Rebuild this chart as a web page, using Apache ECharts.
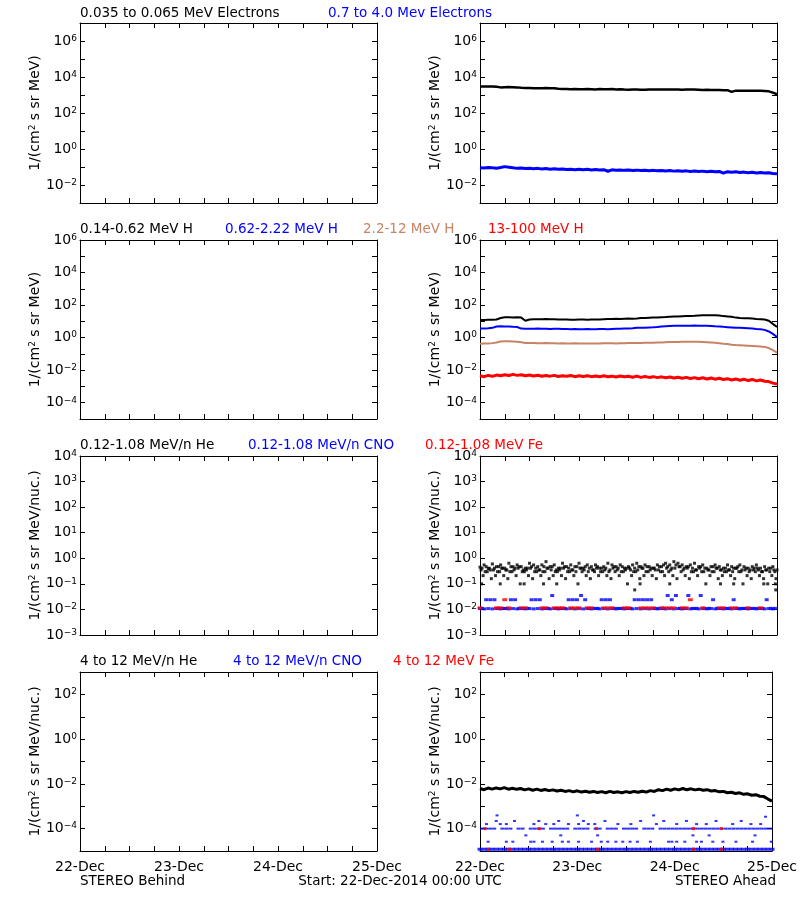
<!DOCTYPE html>
<html><head><meta charset="utf-8">
<script src="https://cdn.jsdelivr.net/npm/echarts@6/dist/echarts.min.js"></script>
<style>html,body{margin:0;padding:0;background:#fff}#c{width:800px;height:900px}</style>
</head><body><div id="c"></div><script>
// ---------------- DATA ----------------
const dayLabels = ['22-Dec', '23-Dec', '24-Dec', '25-Dec'];

// Row 1 (STEREO Ahead) electrons, hourly from 22-Dec 00:00 (h = 0..72)
const elec035_065 = [3000,3000,2950,2950,2900, 2650,2700, 2750,2700,2650,
  2500,2450,2450,2400,2400,2400,2450,2400,2350,
  2200,2150,2150,2100,2150,2100,2100,2150,2100,2050,
  2150,2100,2100,2150,2050,2100,2000,1950,2000,2050,1950,1950,
  2000,2050,2050,2000,2050,2050,2000,2000,1950,2000,2050,2000,
  1950,1900,1950,1900,1900,1900,1850,1850, 1500,
  1750,1750,1750,1700,1700,1700,1700, 1650,1600,1350,1100];
const elec07_40 = [0.092,0.088,0.095,0.090,0.086,0.094,0.105,0.098,0.090,0.084,
  0.088,0.082,0.086,0.080,0.084,0.078,0.082,0.076,0.080,0.074,
  0.078,0.073,0.076,0.071,0.075,0.070,0.074,0.069,0.072,0.068,
  0.071,0.058,0.070,0.066,0.069,0.065,0.068,0.064,0.067,0.063,
  0.066,0.062,0.065,0.061,0.064,0.060,0.063,0.059,0.062,0.058,
  0.061,0.057,0.060,0.056,0.059,0.055,0.058,0.054,0.057,0.046,
  0.055,0.051,0.054,0.050,0.052,0.048,0.051,0.047,0.050,0.046,
  0.048,0.044,0.042];

// Row 2 protons, hourly
const h014_062 = [12,12,12.5,12.5,13, 16,18,18,17.5,18,17, 11,
  13,13.5,13.5,13.5,14,13.5,13.5,13,
  13,13,12.5,12.5,13,13,12.5,13,13,13,13.5,
  14,14,14.5,14,14.5,15,14.5,15,
  16,16,16.5,17,17,18,18.5,
  19.5,20,20,20.5,21,21.5,22,
  23,23.5,24,24,23.5,23,
  21,20,19,17, 16,15.5,15.5,15, 14,13.5,13,11, 7,4.5];
const h062_222 = [3.7,3.7,3.8,4.0, 4.8,5.0,4.9,4.9,4.6,4.5,
  3.6,3.5,3.5,3.5,3.6,3.5,3.5,3.4,3.5,3.5,3.4,
  3.4,3.3,3.4,3.3,3.3,3.4,3.3,3.3,3.4,3.4,3.3,3.4,3.5,3.5,3.6,3.7,3.8,
  4.0,4.0,4.1,4.2,4.3,4.5,4.8,5.0,
  5.2,5.3,5.3,5.4,5.3,5.4,5.5,5.4,5.3,5.3,5.2,5.0,4.9,
  4.6,4.4,4.2,4.0,4.0,3.9,3.8,3.6,
  3.4,3.3,3.0,2.4,1.7,1.1];
const h22_12 = [0.42,0.43,0.44,0.46,0.50, 0.58,0.60,0.60,0.58,0.56,0.52,
  0.47,0.46,0.46,0.45,0.45,0.46,0.45,0.45,0.44,0.45,0.44,0.44,0.45,0.44,0.44,0.43,0.44,0.44,0.44,0.45,
  0.45,0.45,0.44,0.45,0.45,0.46,0.46,0.47,0.47,0.48,0.48,0.49,0.50,0.51,0.52,
  0.53,0.54,0.54,0.55,0.55,0.56,0.56,0.55,0.54,0.52,0.50,0.48,0.45,
  0.42,0.40,0.37,0.35,0.34,0.33,0.32,0.31,
  0.30,0.29,0.27,0.23,0.17,0.12];
const h13_100 = [0.0045,0.0040,0.0048,0.0042,0.0050,0.0046,0.0052,0.0047,0.0055,0.0048,
  0.0052,0.0045,0.0050,0.0044,0.0049,0.0042,0.0047,0.0043,0.0048,0.0041,
  0.0046,0.0042,0.0047,0.0040,0.0045,0.0041,0.0046,0.0040,0.0044,0.0039,
  0.0045,0.0040,0.0043,0.0038,0.0044,0.0039,0.0042,0.0037,0.0043,0.0036,
  0.0041,0.0036,0.0040,0.0035,0.0039,0.0034,0.0038,0.0033,0.0037,0.0032,
  0.0036,0.0031,0.0035,0.0030,0.0034,0.0029,0.0033,0.0028,0.0032,0.0027,
  0.0030,0.0025,0.0029,0.0024,0.0028,0.0023,0.0027,0.0022,0.0025,0.0021,
  0.0020,0.0016,0.0014];

// Row 3 (0.12-1.08 MeV/n), sampled at h+0, h+0.25, h+0.5, h+0.75
const he012_108_m00 = [0.45,0.55,0.40,0.60,0.47,0.55,0.41,0.64,0.47,0.55,
  0.47,0.41,0.64,0.55,0.47,0.55,0.74,0.47,0.55,0.41,
  0.64,0.47,0.55,0.47,0.64,0.41,0.55,0.47,0.55,0.41,
  0.47,0.64,0.55,0.47,0.55,0.41,0.47,0.55,0.64,0.47,
  0.55,0.47,0.41,0.55,0.47,0.64,0.55,0.74,0.64,0.55,
  0.47,0.55,0.64,0.47,0.55,0.41,0.47,0.55,0.47,0.41,
  0.55,0.47,0.41,0.55,0.47,0.41,0.47,0.55,0.41,0.47,
  0.41,0.47,0.35];
const he012_108_m15 = [0.35,0.30,0.41,0.35,0.30,0.41,0.35,0.30,0.35,0.41,
  0.30,0.35,0.41,0.30,0.35,0.30,0.41,0.35,0.30,0.35,
  0.41,0.30,0.35,0.30,0.41,0.35,0.30,0.35,0.41,0.30,
  0.35,0.30,0.41,0.35,0.30,0.35,0.41,0.30,0.35,0.41,
  0.30,0.35,0.41,0.35,0.30,0.41,0.35,0.41,0.47,0.35,
  0.41,0.30,0.35,0.41,0.30,0.35,0.30,0.41,0.35,0.30,
  0.35,0.30,0.41,0.30,0.35,0.30,0.35,0.41,0.30,0.35,
  0.30,0.35];
const he012_108_m30 = [0.41,0.47,0.35,0.41,0.47,0.41,0.35,0.47,0.41,0.47,
  0.35,0.41,0.47,0.41,0.35,0.47,0.41,0.47,0.35,0.41,
  0.47,0.41,0.35,0.47,0.41,0.47,0.41,0.35,0.47,0.41,
  0.41,0.35,0.47,0.41,0.47,0.41,0.35,0.41,0.47,0.41,
  0.47,0.41,0.35,0.47,0.55,0.47,0.41,0.55,0.47,0.41,
  0.47,0.41,0.35,0.47,0.41,0.35,0.47,0.41,0.35,0.41,
  0.35,0.41,0.47,0.35,0.41,0.35,0.41,0.35,0.30,0.35,
  0.41,0.30];
const he012_108_m45 = [0.21,0.30,0.16,0.21,0.30,0.21,0.16,0.30,0.21,0.10,
  0.30,0.21,0.16,0.30,0.21,0.30,0.16,0.21,0.30,0.21,
  0.16,0.30,0.21,0.10,0.30,0.21,0.16,0.30,0.21,0.30,
  0.21,0.16,0.30,0.21,0.30,0.10,0.21,0.30,0.16,0.21,
  0.30,0.21,0.16,0.30,0.21,0.30,0.21,0.16,0.30,0.21,
  0.16,0.30,0.21,0.30,0.10,0.21,0.30,0.16,0.21,0.30,
  0.21,0.16,0.30,0.10,0.21,0.16,0.30,0.21,0.16,0.10,
  0.21,0.16];
const he012_108_low = [[0.4,0.10],[4.9,0.10],[10.7,0.10],[15.4,0.10],[18.6,0.10],[38.8,0.10],
  [46,0.10],[58.3,0.10],[61.5,0.10],[68.8,0.10],[71.6,0.10],[71.7,0.058],[37.5,0.058]];
const cno012_108_m00 = [0.0108,0.0105,0.0108,0.0105,0.0108,0.0105,0.0108,0.0105,0.0108,0.0105,
  0.0108,0.0105,0.0108,0.0105,0.0108,0.0105,0.0108,0.0105,0.0108,0.0105,
  0.0108,0.0105,0.0108,0.0105,0.0108,0.0105,0.0108,0.0105,0.0108,0.0105,
  0.0108,0.0105,0.0108,0.0105,0.0108,0.0105,0.0108,0.0105,0.0108,0.0105,
  0.0108,0.0105,0.0108,0.0105,0.0108,0.0105,0.0108,0.0105,0.0108,0.0105,
  0.0108,0.0105,0.0108,0.0105,0.0108,0.0105,0.0108,0.0105,0.0108,0.0105,
  0.0108,0.0105,0.0108,0.0105,0.0108,0.0105,0.0108,0.0105,0.0108,0.0105,
  0.0108,0.0105,null];
const cno012_108_m30 = [0.011,0.024,0.024,0.024,0.011,0.011,0.011,0.024,0.024,0.011,
  0.011,0.011,0.024,0.024,0.024,0.011,0.011,0.035,0.011,0.011,
  0.011,0.024,0.024,0.024,0.035,0.024,0.011,0.011,0.011,0.024,
  0.024,0.024,0.011,0.011,0.011,0.011,0.011,0.024,0.024,0.024,
  0.024,0.024,0.011,0.011,0.011,0.035,0.024,0.035,0.011,0.011,
  0.035,0.011,0.011,0.035,0.011,0.011,0.024,0.011,0.011,0.011,
  0.011,0.024,0.011,0.011,0.011,0.011,0.011,0.011,0.011,0.024,
  0.011,0.011];
const fe012_108 = [0.0115,null,null,null,0.0115,0.0115,0.024,0.0115,null,null,
  0.0115,0.0115,null,null,null,0.0115,0.0115,null,0.0115,0.0115,
  0.0115,null,0.0115,0.0115,0.0115,null,0.0115,0.0115,null,null,
  0.0115,0.0115,0.0115,null,null,0.0115,0.0115,null,null,0.0115,
  0.0115,0.0115,0.0115,null,0.0115,0.0115,0.0115,0.0115,null,0.0115,
  0.0115,0.024,null,null,0.0115,null,null,null,0.0115,0.0115,
  null,0.0115,0.0115,null,null,0.0115,null,null,0.0115,null,
  null,null,null];

// Row 4 (4-12 MeV/n)
const he4_12 = [0.0062,0.0055,0.0065,0.0058,0.0066,0.0060,0.0068,0.0058,0.0064,0.0057,
  0.0062,0.0054,0.0060,0.0052,0.0058,0.0051,0.0056,0.0050,0.0054,0.0048,
  0.0052,0.0046,0.0050,0.0044,0.0049,0.0043,0.0047,0.0042,0.0046,0.0041,
  0.0045,0.0040,0.0046,0.0041,0.0044,0.0040,0.0045,0.0041,0.0046,0.0042,
  0.0047,0.0043,0.0050,0.0046,0.0055,0.0050,0.0058,0.0052,0.0060,0.0054,
  0.0062,0.0055,0.0060,0.0054,0.0058,0.0052,0.0055,0.0048,0.0050,0.0044,
  0.0046,0.0040,0.0042,0.0037,0.0040,0.0034,0.0036,0.0031,0.0033,0.0028,
  0.0027,0.0021,0.0017];
const cno4_12_m00 = [1.2e-5,1.2e-5,1.2e-5,1.2e-5,1.2e-5,1.2e-5,1.2e-5,1.2e-5,1.2e-5,1.2e-5,
  1.2e-5,1.2e-5,1.2e-5,1.2e-5,1.2e-5,1.2e-5,1.2e-5,1.2e-5,1.2e-5,1.2e-5,
  1.2e-5,1.2e-5,1.2e-5,1.2e-5,1.2e-5,1.2e-5,1.2e-5,1.2e-5,1.2e-5,1.2e-5,
  1.2e-5,1.2e-5,1.2e-5,1.2e-5,1.2e-5,1.2e-5,1.2e-5,1.2e-5,1.2e-5,1.2e-5,
  1.2e-5,1.2e-5,1.2e-5,1.2e-5,1.2e-5,1.2e-5,1.2e-5,1.2e-5,1.2e-5,1.2e-5,
  1.2e-5,1.2e-5,1.2e-5,1.2e-5,1.2e-5,1.2e-5,1.2e-5,1.2e-5,1.2e-5,1.2e-5,
  1.2e-5,1.2e-5,1.2e-5,1.2e-5,1.2e-5,1.2e-5,1.2e-5,1.2e-5,1.2e-5,1.2e-5,
  1.2e-5,1.2e-5,1.2e-5];
const cno4_12_m30 = [1.0e-4,1.0e-4,1.0e-4,1.0e-4,null,1.0e-4,1.0e-4,1.0e-4,null,1.0e-4,
  1.0e-4,null,1.0e-4,1.0e-4,1.0e-4,1.0e-4,null,1.0e-4,1.0e-4,1.0e-4,
  1.0e-4,1.0e-4,null,1.0e-4,1.0e-4,1.0e-4,1.0e-4,null,1.0e-4,1.0e-4,
  null,1.0e-4,1.0e-4,1.0e-4,null,1.0e-4,1.0e-4,1.0e-4,1.0e-4,null,
  1.0e-4,1.0e-4,1.0e-4,null,1.0e-4,1.0e-4,1.0e-4,1.0e-4,1.0e-4,1.0e-4,
  1.0e-4,1.0e-4,1.0e-4,1.0e-4,1.0e-4,1.0e-4,1.0e-4,1.0e-4,1.0e-4,1.0e-4,
  1.0e-4,1.0e-4,1.0e-4,1.0e-4,1.0e-4,1.0e-4,1.0e-4,1.0e-4,1.0e-4,1.0e-4,
  1.0e-4,1.0e-4];
const cno4_12_up = [[1.6,1.6e-4],[4,2.2e-4],[4.2,3.9e-4],[5.0,1.6e-4],[6.5,1.6e-4],[8.5,2.2e-4],[13.3,1.6e-4],
  [14.5,2.2e-4],[16.2,1.6e-4],[18.2,1.6e-4],[19.4,2.2e-4],[21.8,1.6e-4],[24,3.9e-4],[24.3,1.6e-4],
  [25.5,2.2e-4],[26.7,1.6e-4],[28.3,1.6e-4],[30.8,2.2e-4],[34,1.6e-4],[37.2,1.6e-4],[39.6,2.2e-4],
  [42.8,3.9e-4],[43.5,1.6e-4],[45.3,2.2e-4],[48.5,1.6e-4],[50.9,2.2e-4],[53.4,1.6e-4],[55.8,1.6e-4],
  [58.2,2.2e-4],[62.3,1.6e-4],[64.4,2.2e-4],[66.8,1.6e-4],[69.2,1.6e-4],[70.4,3.4e-4]];
const cno4_12_low = [[2,2.6e-5],[6.5,2.6e-5],[8.1,2.6e-5],[11.3,5e-5],[12.5,2.6e-5],[13.3,2.6e-5],[15.4,2.6e-5],
  [17.8,2.6e-5],[19.9,5e-5],[20.3,2.6e-5],[21.8,2.6e-5],[24.3,2.6e-5],[27.5,2.6e-5],[29,5e-5],[29.9,2.6e-5],
  [31.5,2.6e-5],[33.5,2.6e-5],[35.2,2.6e-5],[37,2.6e-5],[38.8,2.6e-5],[42,2.6e-5],[46.5,2.6e-5],[47.3,2.6e-5],
  [48.5,2.6e-5],[50.5,2.6e-5],[52.5,5e-5],[53.4,2.6e-5],[54.6,2.6e-5],[56.5,5e-5],[57.4,2.6e-5],[59.9,2.6e-5],
  [63.1,2.6e-5],[67.2,2.6e-5],[67.8,5e-5],[71.8,2.6e-5]];
const fe4_12 = [[2.1,1.2e-5],[7.3,1.2e-5],[29,1.2e-5],[52.6,1.2e-5],[59.5,1.2e-5],
  [1.2,1.0e-4],[14.6,1.0e-4],[28.7,1.0e-4],[52.6,1.0e-4],[59.5,1.0e-4]];

// ---------------- LAYOUT ----------------
const rowTop = [23, 240, 456, 672];
const rowH = [180, 179, 179, 179];
const colLeft = [80, 480];
const panelW = 297;
const rowY = [[1e-3, 1e7, false, 'MeV'], [1e-5, 1e6, false, 'MeV'], [1e-3, 1e4, true, 'MeV/nuc.'], [1e-5, 1e3, false, 'MeV/nuc.']];
const FONT = 'DejaVu Sans';
const BLUE = '#0000ff', RED = '#ff0000', BROWN = '#c88264', BLACK = '#000000';

const grids = [], xAxes = [], yAxes = [];
for (let r = 0; r < 4; r++) {
  for (let c = 0; c < 2; c++) {
    const p = r * 2 + c;
    grids.push({left: colLeft[c], top: rowTop[r], width: panelW, height: rowH[r], containLabel: false});
    const xBase = {type: 'value', gridIndex: p, min: 0, max: 72, interval: 6,
      axisLine: {show: true, onZero: false, lineStyle: {color: BLACK, width: 1}},
      axisTick: {show: true, inside: true, length: 5, lineStyle: {color: BLACK}},
      splitLine: {show: false}};
    xAxes.push(Object.assign({}, xBase, {position: 'bottom',
      axisLabel: {show: r === 3, margin: 9, color: BLACK, fontFamily: FONT, fontSize: 14,
        formatter: v => (v % 24 === 0 ? dayLabels[v / 24] : '')}}));
    xAxes.push(Object.assign({}, xBase, {position: 'top', axisLabel: {show: false}}));
    const [ymin, ymax, all, unit] = rowY[r];
    const yBase = {type: 'log', logBase: 10, gridIndex: p, min: ymin, max: ymax, interval: 1,
      axisLine: {show: true, onZero: false, lineStyle: {color: BLACK, width: 1}},
      axisTick: {show: true, inside: true, length: 5, lineStyle: {color: BLACK}},
      splitLine: {show: false}, minorTick: {show: false}};
    yAxes.push(Object.assign({}, yBase, {position: 'left',
      name: '{b|1/(cm}{s|2}{b| s sr ' + unit + ')}', nameLocation: 'middle', nameGap: 38,
      nameTextStyle: {color: BLACK, rich: {b: {fontFamily: FONT, fontSize: 14, color: BLACK, verticalAlign: 'top'},
                                        s: {fontFamily: FONT, fontSize: 9, color: BLACK, verticalAlign: 'top'}}},
      axisLabel: {show: true, margin: 3, color: BLACK,
        formatter: v => {
          const e = Math.round(Math.log10(v));
          if (!all && e % 2 !== 0) return '';
          return '{b|10}{s|' + (e < 0 ? '\u2212' + (-e) : e) + '}';
        },
        rich: {b: {fontFamily: FONT, fontSize: 14, color: BLACK, verticalAlign: 'top'},
               s: {fontFamily: FONT, fontSize: 9, color: BLACK, verticalAlign: 'top'}}}}));
    yAxes.push(Object.assign({}, yBase, {position: 'right', axisLabel: {show: false}}));
  }
}

function pairs(arr, off) {
  const out = [];
  arr.forEach((v, i) => { out.push(v == null ? [i + off, null] : [i + off, v]); });
  return out;
}
function pts(arr, off) {
  const out = [];
  arr.forEach((v, i) => { if (v != null) out.push([i + off, v]); });
  return out;
}
function line(p, data, color, w) {
  return {type: 'line', xAxisIndex: 2 * p, yAxisIndex: 2 * p, data: data, showSymbol: false, symbol: 'none',
    lineStyle: {color: color, width: w}, itemStyle: {color: color}, animation: false, silent: true, connectNulls: false};
}
function dots(p, data, color, size) {
  return {type: 'scatter', xAxisIndex: 2 * p, yAxisIndex: 2 * p, data: data, symbol: 'rect', symbolSize: size,
    itemStyle: {color: color}, animation: false, silent: true};
}

const series = [
  line(1, pairs(elec035_065, 0), BLACK, 2.5),
  line(1, pairs(elec07_40, 0), BLUE, 3),
  line(3, pairs(h014_062, 0), BLACK, 2),
  line(3, pairs(h062_222, 0), BLUE, 2),
  line(3, pairs(h22_12, 0), BROWN, 2),
  line(3, pairs(h13_100, 0), RED, 3),
  dots(5, pts(he012_108_m00, 0), BLACK, [3, 3]),
  dots(5, pts(he012_108_m15, 0.25), BLACK, [3, 3]),
  dots(5, pts(he012_108_m30, 0.5), BLACK, [3, 3]),
  dots(5, pts(he012_108_m45, 0.75), BLACK, [3, 3]),
  dots(5, he012_108_low, BLACK, [3, 3]),
  dots(5, pts(cno012_108_m00, 0), BLUE, [4, 3]),
  dots(5, pts(cno012_108_m30, 0.5), BLUE, [4, 3]),
  dots(5, pts(fe012_108, 0), RED, [5, 3]),
  line(7, pairs(he4_12, 0), BLACK, 3),
  dots(7, pts(cno4_12_m00, 0), BLUE, [5, 3]),
  dots(7, pts(cno4_12_m30, 0.5), BLUE, [4, 2]),
  dots(7, cno4_12_up, BLUE, [3, 2]),
  dots(7, cno4_12_low, BLUE, [3, 2]),
  dots(7, fe4_12, RED, [3, 3])
];

const texts = [
  ['0.035 to 0.065 MeV Electrons', 80, 13, BLACK, 'left'],
  ['0.7 to 4.0 Mev Electrons', 328, 13, BLUE, 'left'],
  ['0.14-0.62 MeV H', 80, 229, BLACK, 'left'],
  ['0.62-2.22 MeV H', 225, 229, BLUE, 'left'],
  ['2.2-12 MeV H', 363, 229, BROWN, 'left'],
  ['13-100 MeV H', 488, 229, RED, 'left'],
  ['0.12-1.08 MeV/n He', 80, 445, BLACK, 'left'],
  ['0.12-1.08 MeV/n CNO', 248, 445, BLUE, 'left'],
  ['0.12-1.08 MeV Fe', 425, 445, RED, 'left'],
  ['4 to 12 MeV/n He', 80, 661, BLACK, 'left'],
  ['4 to 12 MeV/n CNO', 233, 661, BLUE, 'left'],
  ['4 to 12 MeV Fe', 393, 661, RED, 'left'],
  ['STEREO Behind', 80, 881, BLACK, 'left'],
  ['Start: 22-Dec-2014 00:00 UTC', 400, 881, BLACK, 'center'],
  ['STEREO Ahead', 776, 881, BLACK, 'right']
];
const graphic = texts.map(t => ({type: 'text', x: t[1], y: t[2], silent: true,
  style: {text: t[0], fill: t[3], font: '13.5px "' + FONT + '"', align: t[4], verticalAlign: 'middle'}}));

const chart = echarts.init(document.getElementById('c'), null, {renderer: 'canvas'});
chart.setOption({animation: false, backgroundColor: '#ffffff', grid: grids, xAxis: xAxes, yAxis: yAxes,
  series: series, graphic: graphic});
</script></body></html>
